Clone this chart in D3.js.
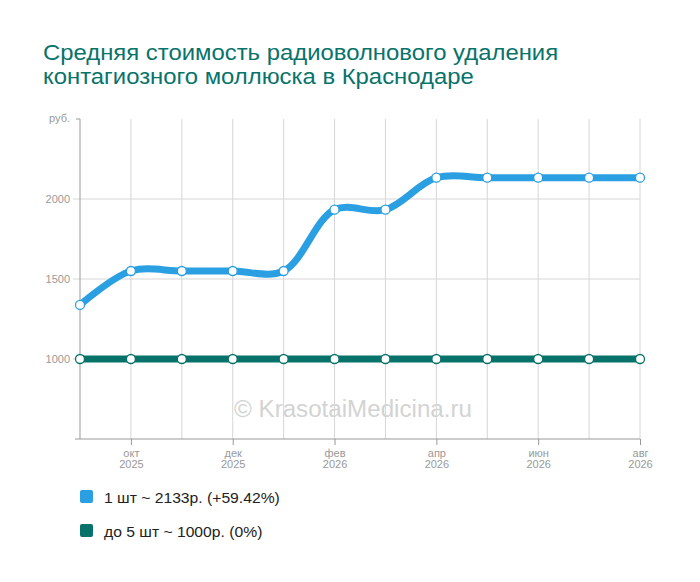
<!DOCTYPE html>
<html>
<head>
<meta charset="utf-8">
<script src="https://cdn.jsdelivr.net/npm/d3@7"></script>
<style>
  body { margin: 0; background: #fff; font-family: "Liberation Sans", Arial, sans-serif; }
  .tick text { fill: #999; font-size: 10px; }
</style>
</head>
<body>
<div id="box1"><svg id="box1_svg"></svg></div>
<script>
"use strict";

// data
const months = ["2025-09", "2025-10", "2025-11", "2025-12", "2026-01", "2026-02",
  "2026-03", "2026-04", "2026-05", "2026-06", "2026-07", "2026-08"];
const month_names = ["янв", "фев", "мар", "апр", "май", "июн", "июл", "авг", "сен", "окт", "ноя", "дек"];
const series_names = ["1 шт ~ 2133р. (+59.42%)", "до 5 шт ~ 1000р. (0%)"];
const series_colors = ["#2a9fe2", "#07726a"];
const values_1 = [1338, 1550, 1550, 1550, 1550, 1933, 1933, 2133, 2133, 2133, 2133, 2133];
const values_5 = [1000, 1000, 1000, 1000, 1000, 1000, 1000, 1000, 1000, 1000, 1000, 1000];
const y_ticks = [1000, 1500, 2000];
const title_lines = ["Средняя стоимость радиоволнового удаления", "контагиозного моллюска в Краснодаре"];

const W = 700, H = 582;
const svg = d3.select("#box1_svg").attr("width", W).attr("height", H);

// the reference text is a bit wider than Liberation Sans at the same height
const stretch = (sel, k) => sel.each(function () {
  const len = this.getComputedTextLength();
  d3.select(this).attr("textLength", len * k).attr("lengthAdjust", "spacingAndGlyphs");
});

const x = d3.scalePoint().domain(months).range([80, 640]);
const y = d3.scaleLinear().domain([500, 2500]).range([439, 119]);

// title
svg.append("g").selectAll("text").data(title_lines).join("text")
  .attr("x", 43).attr("y", (d, i) => 60 + i * 24)
  .attr("fill", "#08736b")
  .attr("font-size", 22)
  .text(d => d)
  .call(stretch, 1.085);

// grid
svg.append("g").selectAll("line").data(y_ticks).join("line")
  .attr("x1", 73).attr("x2", 640)
  .attr("y1", d => y(d)).attr("y2", d => y(d))
  .attr("stroke", "#d6d6d6");
svg.append("g").selectAll("line").data(months.slice(1)).join("line")
  .attr("x1", d => x(d)).attr("x2", d => x(d))
  .attr("y1", 119).attr("y2", 439)
  .attr("stroke", "#d6d6d6");

// y axis
const ya = svg.append("g").attr("transform", "translate(80,0)")
  .call(d3.axisLeft(y).tickValues(y_ticks).tickSize(0).tickPadding(10).tickFormat(d3.format("d")));
ya.select(".domain").attr("stroke", "#999").attr("d", "M0,119V439");
ya.append("text").attr("x", -10).attr("y", 119).attr("dy", "0.32em")
  .attr("text-anchor", "end").attr("fill", "#999").attr("font-size", 10).text("руб.");
ya.selectAll("text").call(stretch, 1.1);
svg.append("line").attr("x1", 76).attr("x2", 80).attr("y1", 119).attr("y2", 119).attr("stroke", "#999");

// x axis
const xa = svg.append("g").attr("transform", "translate(0,439)")
  .call(d3.axisBottom(x).tickValues(months.filter((d, i) => i % 2 == 1)).tickSize(6).tickFormat(() => ""));
xa.select(".domain").attr("stroke", "#999").attr("d", "M75,0H640");
xa.selectAll(".tick line").attr("stroke", "#999");
xa.selectAll(".tick text").each(function (d) {
  const dt = d3.timeParse("%Y-%m")(d);
  const t = d3.select(this).attr("y", 11);
  t.append("tspan").attr("x", 0).attr("dy", "0.71em").text(month_names[dt.getMonth()]);
  t.append("tspan").attr("x", 0).attr("dy", 11).text(dt.getFullYear());
});
xa.selectAll(".tick tspan").call(stretch, 1.1);

// watermark
svg.append("text").attr("x", 353).attr("y", 417)
  .attr("text-anchor", "middle").attr("fill", "#d3d3d3").attr("font-size", 23)
  .text("© KrasotaiMedicina.ru")
  .call(stretch, 1.05);

// lines
const line = d3.line().x((d, i) => x(months[i])).y(d => y(d)).curve(d3.curveCatmullRom.alpha(0.5));
[values_5, values_1].forEach((vals, k) => {
  const c = series_colors[1 - k];
  svg.append("path").attr("d", line(vals)).attr("fill", "none")
    .attr("stroke", c).attr("stroke-width", 7).attr("stroke-linecap", "round");
  svg.append("g").selectAll("circle").data(vals).join("circle")
    .attr("cx", (d, i) => x(months[i])).attr("cy", d => y(d)).attr("r", 4.5)
    .attr("fill", "#fff").attr("stroke", c).attr("stroke-width", 1.3);
});

// legend
const lg = svg.append("g").selectAll("g").data(series_names).join("g")
  .attr("transform", (d, i) => `translate(80,${490 + i * 34})`);
lg.append("rect").attr("width", 13).attr("height", 13).attr("rx", 2)
  .attr("fill", (d, i) => series_colors[i]);
lg.append("text").attr("x", 24).attr("y", 13)
  .attr("font-size", 14).attr("fill", "#222").text(d => d)
  .call(stretch, 1.12);
</script>
</body>
</html>
